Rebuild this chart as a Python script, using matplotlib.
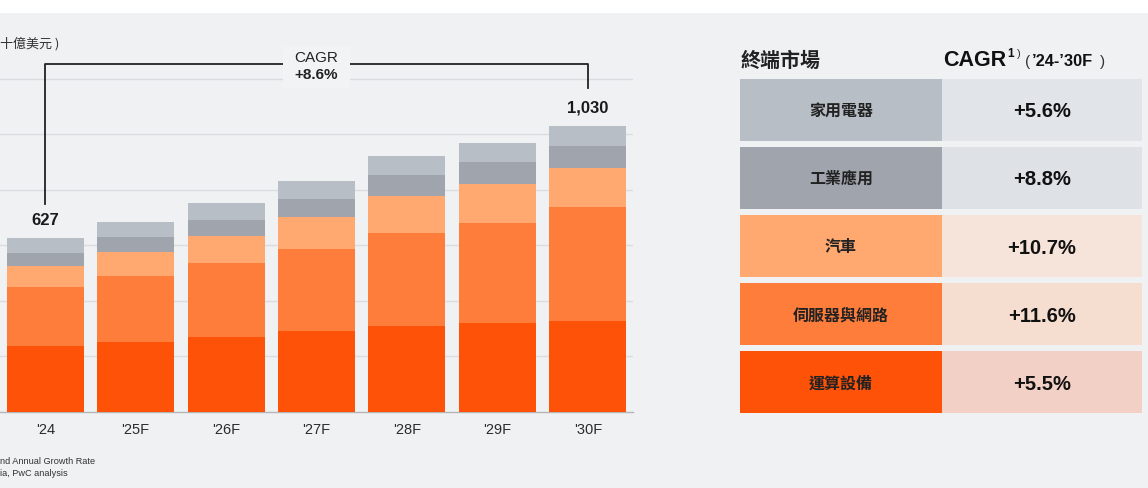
import matplotlib
matplotlib.use("Agg")
import matplotlib.pyplot as plt
from matplotlib.patches import Rectangle
import numpy as np

# ---------------- data ----------------
years = ["'24", "'25F", "'26F", "'27F", "'28F", "'29F", "'30F"]
segments = ["運算設備", "伺服器與網路", "汽車", "工業應用", "家用電器"]  # bottom -> top
computing = [238, 253, 271, 292, 311, 320, 328]
servers = [212, 236, 265, 295, 334, 362, 410]
auto = [77, 88, 97, 114, 132, 139, 140]
industrial = [46, 53, 58, 66, 77, 79, 80]
home = [54, 54, 61, 65, 67, 67, 72]
total_labels = ["627", "1,030"]
overall_cagr = "+8.6%"

table_markets = ["家用電器", "工業應用", "汽車", "伺服器與網路", "運算設備"]
table_cagr = ["+5.6%", "+8.8%", "+10.7%", "+11.6%", "+5.5%"]

# ---------------- style ----------------
BG = "#f0f1f3"
seg_colors = ["#fe5208", "#fe7d3b", "#ffa86f", "#9fa4ad", "#b7bec6"]
tbl_left = ["#b7bec6", "#9fa4ad", "#ffa86f", "#fe7d3b", "#fe5208"]
tbl_right = ["#e1e4e8", "#dee1e5", "#f6e3da", "#f5ddd0", "#f3d0c5"]
FONT = ["Liberation Sans", "Noto Sans CJK TC", "DejaVu Sans"]
CJK = ["Noto Sans CJK TC", "Liberation Sans", "DejaVu Sans"]
plt.rcParams["font.family"] = FONT

W, H = 1148, 489
fig = plt.figure(figsize=(W / 100, H / 100), dpi=100, facecolor=BG)
fig.patches.append(Rectangle((0, (H - 14) / H), 1, 14 / H, transform=fig.transFigure,
                             facecolor="white", edgecolor="none", zorder=0))

# ---------------- bar chart ----------------
y0_px, ytop_px = 413, 63
ax = fig.add_axes([0, (H - y0_px) / H, 633 / W, (y0_px - ytop_px) / H])
ax.set_facecolor("none")
x = np.arange(len(years))
stack = [computing, servers, auto, industrial, home]
bottom = np.zeros(len(years))
for vals, col in zip(stack, seg_colors):
    ax.bar(x, vals, width=0.85, bottom=bottom, color=col, edgecolor="none", zorder=3)
    bottom += np.array(vals)
totals = bottom

ax.set_xlim(-0.5, 6.5)
ax.set_ylim(0, 1260)
ax.set_yticks([200, 400, 600, 800, 1000, 1200])
ax.yaxis.grid(True, color="#dadcdf", linewidth=1, zorder=0)
ax.tick_params(axis="y", length=0, labelleft=False)
ax.set_xticks(x)
ax.set_xticklabels(years, fontsize=10.5, color="#2b2b2b")
ax.tick_params(axis="x", length=0, pad=7)
for s in ["top", "right", "left"]:
    ax.spines[s].set_visible(False)
ax.spines["bottom"].set_color("#b5b5b5")
ax.spines["bottom"].set_linewidth(1)

# total labels
for xi, lab in zip([0, len(years) - 1], total_labels):
    ax.annotate(lab, xy=(xi, totals[xi]), xytext=(0, 13.5), textcoords="offset points",
                ha="center", va="center", fontsize=12, fontweight="bold", color="#1a1a1a")

# CAGR bracket
level = 1253
ax.plot([0, 0, len(years) - 1, len(years) - 1],
        [totals[0] + 122, level, level, totals[-1] + 137],
        color="#222222", linewidth=1.3, clip_on=False, zorder=4)
mid = (len(years) - 1) / 2
ax.add_patch(Rectangle((mid - 0.37, 1168), 0.74, 150, facecolor="#f2f3f5",
                       edgecolor="none", zorder=5, clip_on=False))
ax.text(mid, level + 24, "CAGR", ha="center", va="center", fontsize=11,
        color="#222222", zorder=6, clip_on=False)
ax.text(mid, level - 38, overall_cagr, ha="center", va="center", fontsize=11,
        fontweight="bold", color="#222222", zorder=6, clip_on=False)

# ---------------- overlay for texts & table ----------------
ov = fig.add_axes([0, 0, 1, 1], zorder=-1)
ov.set_xlim(0, W)
ov.set_ylim(H, 0)
ov.axis("off")
ov.set_facecolor("none")

ov.text(0, 44, "十億美元 )", ha="left", va="center", fontsize=9.4, color="#333333", family=CJK)
ov.text(0, 462, "nd Annual Growth Rate", ha="left", va="center", fontsize=6.6, color="#333333")
ov.text(0, 473, "ia, PwC analysis", ha="left", va="center", fontsize=6.6, color="#333333")

# table header
ov.text(741, 60, "終端市場", ha="left", va="center", fontsize=14.4, fontweight="bold",
        color="#222222", family=CJK)
ov.text(943, 60, "CAGR", ha="left", va="center", fontsize=15.5, fontweight="bold", color="#111111")
ov.text(1007, 54, "1", ha="left", va="center", fontsize=8.5, fontweight="bold", color="#111111")
ov.text(1016.5, 54, ")", ha="left", va="center", fontsize=8, color="#333333")
ov.text(1025, 62, "(", ha="left", va="center", fontsize=11, color="#333333")
ov.text(1032, 62, "\u201924-\u201930F", ha="left", va="center", fontsize=11.8,
        fontweight="bold", color="#111111")
ov.text(1100, 62, ")", ha="left", va="center", fontsize=11, color="#333333")

# table rows
row_top0, row_h, row_gap = 80, 61.7, 6.4
for i, (m, c) in enumerate(zip(table_markets, table_cagr)):
    top = row_top0 + i * (row_h + row_gap)
    ov.add_patch(Rectangle((740, top), 202, row_h, facecolor=tbl_left[i], edgecolor="none"))
    ov.add_patch(Rectangle((942, top), 200, row_h, facecolor=tbl_right[i], edgecolor="none"))
    ov.text(841, top + row_h / 2, m, ha="center", va="center", fontsize=11.5,
            fontweight="bold", color="#222222", family=CJK)
    ov.text(1042, top + row_h / 2 + 1, c, ha="center", va="center", fontsize=14.5,
            fontweight="bold", color="#111111")

fig.savefig("out.png", dpi=100, facecolor=BG)
